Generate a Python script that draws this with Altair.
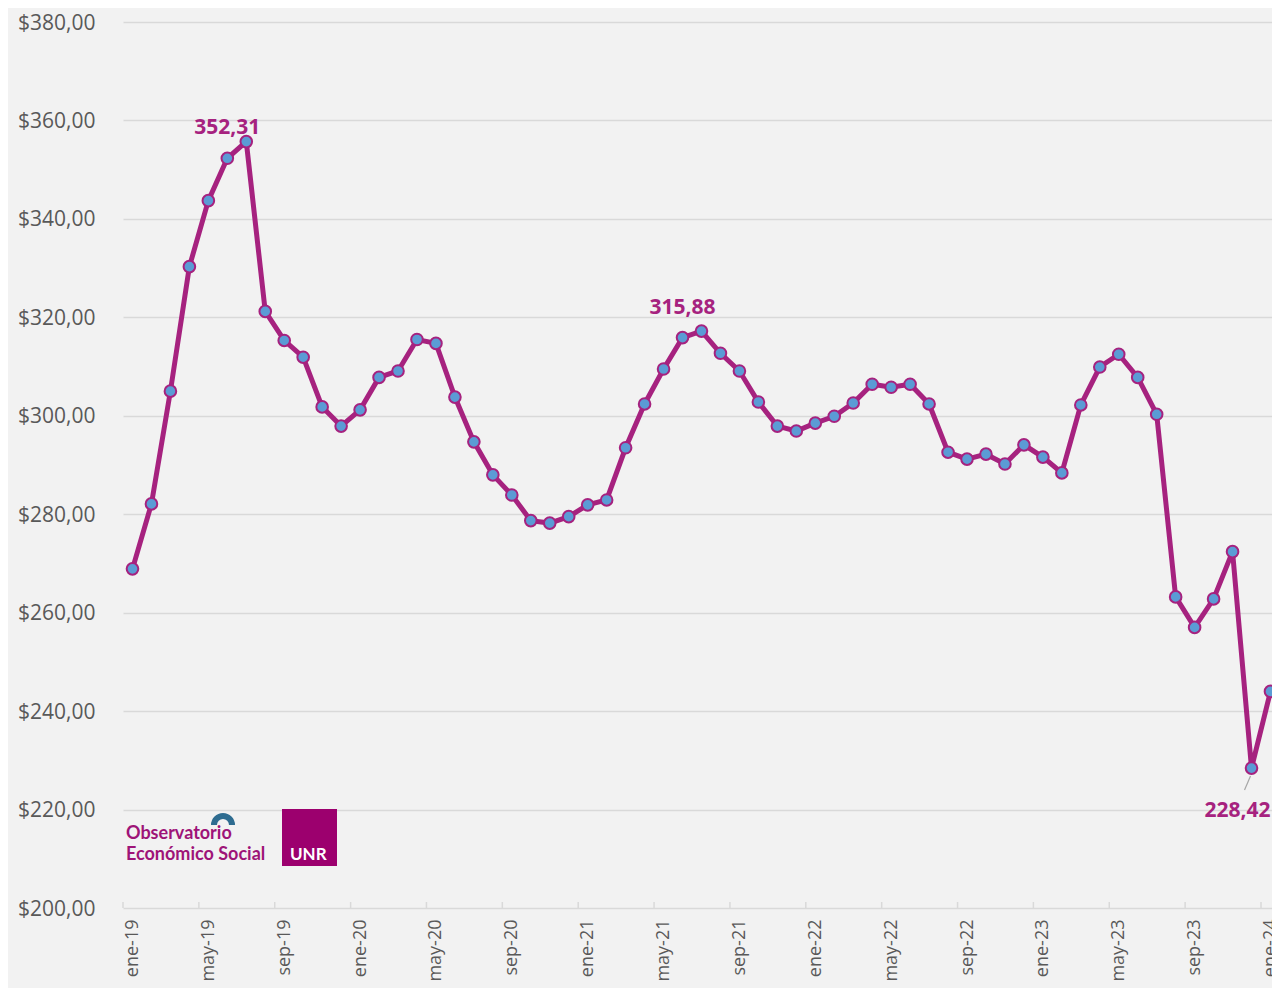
import altair as alt
import pandas as pd

# ---- data ----
month_abbr = ["ene", "feb", "mar", "abr", "may", "jun", "jul", "ago", "sep", "oct", "nov", "dic"]
years = ["19", "20", "21", "22", "23", "24"]
months = [f"{m}-{y}" for y in years for m in month_abbr][:61]  # ene-19 .. ene-24

values = [
    268.9, 282.1, 305.0, 330.3, 343.7, 352.31, 355.7, 321.2, 315.3, 311.9,
    301.8, 297.9, 301.2, 307.8, 309.1, 315.5, 314.7, 303.8, 294.7, 288.0,
    283.9, 278.7, 278.2, 279.5, 281.9, 282.9, 293.5, 302.4, 309.5, 315.88,
    317.2, 312.7, 309.1, 302.8, 297.9, 296.9, 298.5, 299.9, 302.6, 306.4,
    305.8, 306.4, 302.4, 292.6, 291.2, 292.2, 290.2, 294.1, 291.6, 288.4,
    302.2, 309.9, 312.5, 307.8, 300.3, 263.2, 257.0, 262.8, 272.4, 228.42,
    244.0,
]

labels_top = {5: "352,31", 29: "315,88"}
labels_bottom = {59: "228,42"}

tick_label_idx = list(range(0, 61, 4))
y_ticks = [200, 220, 240, 260, 280, 300, 320, 340, 360, 380]

MAGENTA = "#A6227F"
BLUE = "#5B9BD5"
GRAY_TXT = "#595959"
GRID = "#D9D9D9"
FONT = "Open Sans"

df = pd.DataFrame({"i": list(range(len(values))), "mes": months, "valor": values})
df_top = pd.DataFrame({"i": list(labels_top.keys()),
                       "valor": [values[k] for k in labels_top],
                       "txt": list(labels_top.values())})
df_bot = pd.DataFrame({"i": list(labels_bottom.keys()),
                       "valor": [values[k] for k in labels_bottom],
                       "txt": list(labels_bottom.values())})
df_ticks = pd.DataFrame({"t": [k - 0.5 for k in tick_label_idx]})
one = pd.DataFrame({"a": [0]})

label_array = "[" + ",".join(f"'{months[k]}'" for k in tick_label_idx) + "]"

x_scale = alt.Scale(domain=[-0.5, 60.08], nice=False, zero=False)
y_scale = alt.Scale(domain=[200, 380], nice=False, zero=False)

x_axis = alt.Axis(
    values=tick_label_idx,
    labelExpr=f"{label_array}[round(datum.value/4)]",
    labelAngle=270, labelFont=FONT, labelFontSize=18, labelColor=GRAY_TXT,
    labelPadding=11, ticks=False, domain=False, grid=False, title=None,
    labelOverlap=False, labelFlush=False, labelBound=False,
)
y_axis = alt.Axis(
    values=y_ticks,
    labelExpr="'$' + replace(format(datum.value, '.2f'), '.', ',')",
    labelFont=FONT, labelFontSize=21, labelColor=GRAY_TXT, labelPadding=28,
    labelOffset=1,
    ticks=False, domain=False, grid=True, gridColor=GRID, gridWidth=1.5, title=None,
)

base = alt.Chart(df).encode(
    x=alt.X("i:Q", scale=x_scale, axis=x_axis),
    y=alt.Y("valor:Q", scale=y_scale, axis=y_axis),
)

line = base.mark_line(color=MAGENTA, strokeWidth=5)
points = base.mark_point(filled=True, fill=BLUE, stroke=MAGENTA, strokeWidth=2,
                         size=135, opacity=1, shape="circle")

txt_top = alt.Chart(df_top).mark_text(
    font=FONT, fontSize=21, fontWeight="bold", color=MAGENTA, dy=-24, baseline="alphabetic"
).encode(x=alt.X("i:Q", scale=x_scale), y=alt.Y("valor:Q", scale=y_scale), text="txt:N")

txt_bot = alt.Chart(df_bot).mark_text(
    font=FONT, fontSize=21, fontWeight="bold", color=MAGENTA, dx=-14, dy=49,
    baseline="alphabetic", align="center"
).encode(x=alt.X("i:Q", scale=x_scale), y=alt.Y("valor:Q", scale=y_scale), text="txt:N")

leader = alt.Chart(df_bot).mark_rule(color="#A6A6A6", strokeWidth=1.2, xOffset=-1, yOffset=8,
                                     x2Offset=-7, y2Offset=22).encode(
    x=alt.X("i:Q", scale=x_scale), y=alt.Y("valor:Q", scale=y_scale),
    x2=alt.X2("i:Q"), y2=alt.Y2("valor:Q"),
)

ticks = alt.Chart(df_ticks).mark_rule(color=GRID, strokeWidth=1.5, y2Offset=-6).encode(
    x=alt.X("t:Q", scale=x_scale),
    y=alt.YDatum(200),
    y2=alt.Y2Datum(200),
)

# ---- logo ----
LOGO = "#9E1478"
logo_t1 = alt.Chart(one).mark_text(text="Observatorio", font="Lato", fontSize=18,
                                   fontWeight="bold", color=LOGO, align="left",
                                   baseline="alphabetic").encode(x=alt.value(3), y=alt.value(817))
logo_t2 = alt.Chart(one).mark_text(text="Económico Social", font="Lato", fontSize=18,
                                   fontWeight="bold", color=LOGO, align="left",
                                   baseline="alphabetic").encode(x=alt.value(3), y=alt.value(838))
logo_arc = alt.Chart(one).mark_arc(theta=4.712, theta2=7.854, radius=12, radius2=6,
                                   color="#2E6C90").encode(x=alt.value(100), y=alt.value(803))
logo_box = alt.Chart(one).mark_rect(color="#9C006E").encode(
    x=alt.value(159), x2=alt.value(214), y=alt.value(787), y2=alt.value(844))
logo_unr = alt.Chart(one).mark_text(text="UNR", font="Lato", fontSize=17, fontWeight="bold",
                                    color="white", align="left", baseline="alphabetic").encode(
    x=alt.value(167), y=alt.value(838))

chart = alt.layer(
    ticks, line, points, txt_top, txt_bot, leader,
    logo_arc, logo_t1, logo_t2, logo_box, logo_unr,
).properties(
    width=1149, height=886,
    autosize=alt.AutoSizeParams(type="none"),
    padding={"left": 115, "top": 14, "right": 0, "bottom": 80},
    background="#F2F2F2",
).configure_view(stroke=None)

chart.save("out.html", embed_options={"renderer": "svg", "actions": False})
